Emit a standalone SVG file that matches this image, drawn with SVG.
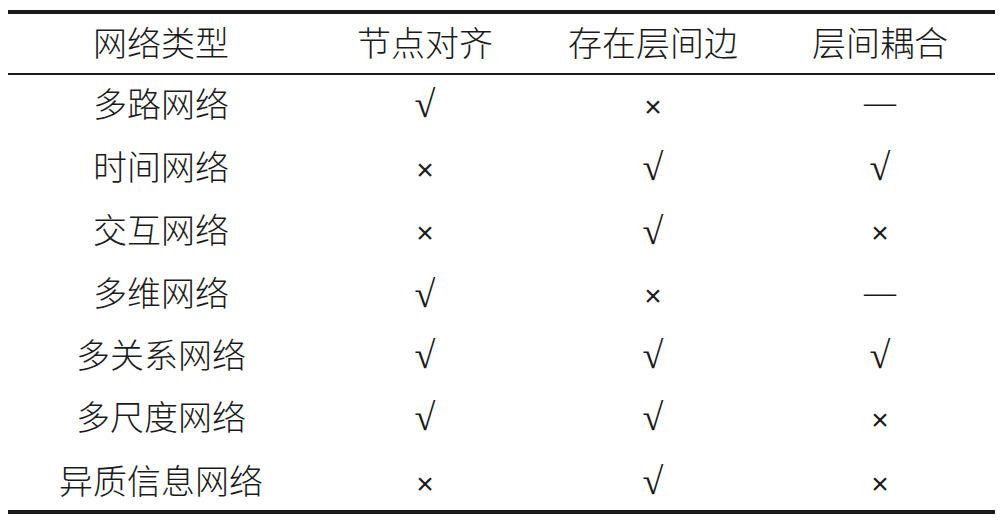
<svg xmlns="http://www.w3.org/2000/svg" width="1000" height="523" viewBox="0 0 1000 523">
<style>
.t{font-family:"Noto Sans CJK SC","Noto Sans",sans-serif;font-size:34px;text-anchor:middle;fill:#1a1a1a;font-weight:300}
.s{font-family:"Liberation Serif","DejaVu Serif",serif;font-size:38px;text-anchor:middle;fill:#1a1a1a}
.d{font-family:"Liberation Serif","DejaVu Serif",serif;font-size:32px;text-anchor:middle;fill:#1a1a1a}
.x{font-family:"Liberation Sans","DejaVu Sans",sans-serif;font-size:30px;text-anchor:middle;fill:#1a1a1a}
</style>
<rect width="1000" height="523" fill="#fff"/>
<g id="rules" stroke="#1a1a1a">
<line x1="8" y1="12" x2="995" y2="12" stroke-width="4"/>
<line x1="8" y1="74" x2="995" y2="74" stroke-width="2"/>
<line x1="8" y1="512" x2="995" y2="512" stroke-width="4"/>
</g>
<g id="header">
<text class="t" x="161" y="56">网络类型</text>
<text class="t" x="425" y="56">节点对齐</text>
<text class="t" x="653" y="56">存在层间边</text>
<text class="t" x="880" y="56">层间耦合</text>
</g>
<g id="col1">
<text class="t" x="161" y="117">多路网络</text>
<text class="t" x="161" y="180">时间网络</text>
<text class="t" x="161" y="243">交互网络</text>
<text class="t" x="161" y="306">多维网络</text>
<text class="t" x="161" y="368">多关系网络</text>
<text class="t" x="161" y="430">多尺度网络</text>
<text class="t" x="161" y="494">异质信息网络</text>
</g>
<g id="col2">
<text class="s" x="425" y="117">√</text>
<text class="x" x="425" y="180">×</text>
<text class="x" x="425" y="243">×</text>
<text class="s" x="425" y="307">√</text>
<text class="s" x="425" y="368">√</text>
<text class="s" x="425" y="430">√</text>
<text class="x" x="425" y="494">×</text>
</g>
<g id="col3">
<text class="x" x="653" y="117">×</text>
<text class="s" x="653" y="180">√</text>
<text class="s" x="653" y="244">√</text>
<text class="x" x="653" y="306">×</text>
<text class="s" x="653" y="368">√</text>
<text class="s" x="653" y="430">√</text>
<text class="s" x="653" y="494">√</text>
</g>
<g id="col4">
<text class="d" x="880" y="113">—</text>
<text class="s" x="880" y="180">√</text>
<text class="x" x="880" y="243">×</text>
<text class="d" x="880" y="303">—</text>
<text class="s" x="880" y="368">√</text>
<text class="x" x="880" y="430">×</text>
<text class="x" x="880" y="494">×</text>
</g>
</svg>
